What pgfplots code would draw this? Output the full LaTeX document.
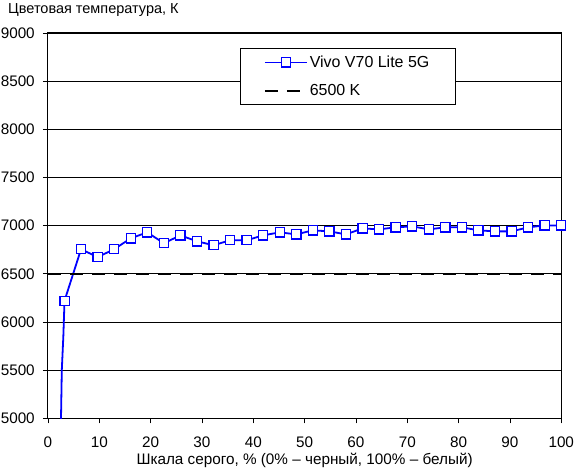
\documentclass[border=0pt]{standalone}
\usepackage{pgfplots}
\pgfplotsset{compat=1.18}
\usepackage{fontspec}
\setmainfont{Liberation Sans}
\definecolor{lineblue}{RGB}{0,0,255}
\pgfplotsset{
  legmark/.style={legend image code/.code={\draw[mark repeat=2,mark phase=2,##1] plot coordinates {(0pt,0pt) (21pt,0pt) (42pt,0pt)};}},
  legdash/.style={legend image code/.code={\draw[##1] (0pt,0pt) -- (42pt,0pt);}},
}
\begin{document}
\begin{tikzpicture}
\begin{axis}[
  name=ax,
  scale only axis,
  width=514pt, height=386pt,
  xmin=0, xmax=100, ymin=5000, ymax=9000,
  xtick={0,10,...,100},
  ytick={5000,5500,...,9000},
  tick align=outside,
  major tick length=5pt,
  ymajorgrids=true,
  grid style={black, line width=0.8pt},
  axis line style={black, line width=1pt},
  tick style={black, line width=0.8pt},
  xtick pos=bottom, ytick pos=left,
  /pgf/number format/assume math mode=true,
  /pgf/number format/1000 sep={},
  tick label style={font=\fontsize{15.3pt}{17pt}\selectfont, inner sep=0pt},
  xticklabel style={yshift=-13pt},
  yticklabel style={xshift=-8pt},
  xlabel={Шкала серого, \% (0\% – черный, 100\% – белый)},
  xlabel style={font=\fontsize{15.3pt}{17pt}\selectfont, at={(axis description cs:0.5,0)},
    anchor=base, yshift=-46pt, inner sep=0pt},
  legend style={at={(0.3735,0.961)}, anchor=north west, draw=black, line width=0.8pt,
    font=\fontsize{16pt}{18pt}\selectfont, inner xsep=24pt, inner ysep=5.5pt,
    row sep=11.5pt, fill=white},
  legend cell align=left,
  clip=true,
]
\addplot[lineblue, line width=1.8pt, forget plot] coordinates {
  (2.50,4850) (2.70,5500) (3.00,5850) (3.23,6221)
};
\addplot[lineblue, line width=1.8pt, mark=square*, mark size=4.6pt,
  mark options={fill=white, draw=lineblue, line width=1.2pt, solid}, legmark
] coordinates {
  (3.23,6221) (6.45,6756) (9.68,6674) (12.90,6756) (16.13,6869)
  (19.35,6931) (22.58,6818) (25.81,6900) (29.03,6838) (32.26,6797)
  (35.48,6849) (38.71,6849) (41.94,6900) (45.16,6931) (48.39,6910)
  (51.61,6952) (54.84,6941) (58.06,6910) (61.29,6972) (64.52,6962)
  (67.74,6983) (70.97,6993) (74.19,6962) (77.42,6983) (80.65,6983)
  (83.87,6952) (87.10,6941) (90.32,6941) (93.55,6983) (96.77,7003)
  (100,7003)
};
\addlegendentry{Vivo V70 Lite 5G}
\addplot[black, line width=1.8pt, dash pattern=on 13pt off 9pt, legdash
] coordinates {(0,6500) (100,6500)};
\addlegendentry{6500 K}
\end{axis}
\node[anchor=base west, font=\fontsize{14.5pt}{16pt}\selectfont, inner sep=0pt]
  at ([shift={(-40pt,19pt)}]ax.north west) {Цветовая температура, К};
\path ([shift={(-48pt,-50pt)}]ax.south west) rectangle ([shift={(12pt,33pt)}]ax.north east);
\end{tikzpicture}
\end{document}
